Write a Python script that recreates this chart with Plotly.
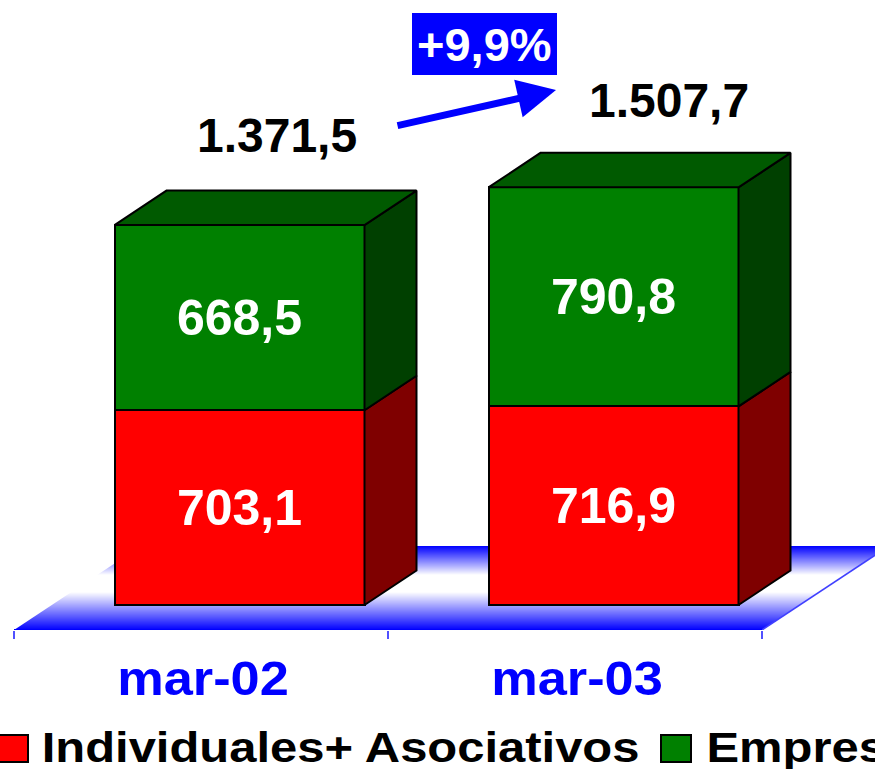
import plotly.graph_objects as go

categories = ["mar-02", "mar-03"]
individuales = [703.1, 716.9]
empresas = [668.5, 790.8]
totals = ["1.371,5", "1.507,7"]
growth_label = "+9,9%"
legend_names = ["Individuales+ Asociativos", "Empresas"]

W, H = 875, 769
PX_X = 374.0          # pixels per category
PX_Y = 0.277          # pixels per value unit
L, B = 14, 139        # plot margins; the axis line sits at pixel y=630
ZERO_Y = 605
FONT = "Liberation Sans, Arial, sans-serif"

def vx(px):           # horizontal pixel offset to data units
    return px / PX_X
def vy(px):           # vertical pixel offset to data units
    return px / PX_Y

x_range = [-0.5, -0.5 + (W - L) / PX_X]
y_range = [-vy(630 - ZERO_Y), vy(ZERO_Y)]
bar_w = vx(250)
bar_shift = vx(38.5)
dx, dy = vx(52), vy(34.5)
fdx, fdy = vx(127), vy(84)

fig = go.Figure()

# front faces
for name, vals, col in [(legend_names[0], individuales, "#ff0000"), (legend_names[1], empresas, "#008000")]:
    fig.add_trace(go.Bar(
        x=list(range(len(categories))), y=vals, name=name, width=bar_w,
        offset=bar_shift - bar_w / 2, marker=dict(color=col, line=dict(color="black", width=2)),
        text=[f"{v:.1f}".replace(".", ",") for v in vals], textposition="inside",
        insidetextanchor="middle", textangle=0, constraintext="none",
        textfont=dict(family=FONT, size=50, color="white", weight="bold"),
        showlegend=False, hoverinfo="skip"))

# side and top faces
def poly(xs, ys, col):
    fig.add_trace(go.Scatter(x=xs, y=ys, mode="lines", fill="toself", fillcolor=col,
                             line=dict(color="black", width=2), showlegend=False, hoverinfo="skip"))

for i in range(len(categories)):
    x0 = i + bar_shift - bar_w / 2
    x1 = x0 + bar_w
    a, b = individuales[i], individuales[i] + empresas[i]
    poly([x1, x1 + dx, x1 + dx, x1, x1], [0, dy, a + dy, a, 0], "#7f0000")
    poly([x1, x1 + dx, x1 + dx, x1, x1], [a, a + dy, b + dy, b, a], "#004000")
    poly([x0, x0 + dx, x1 + dx, x1, x0], [b, b + dy, b + dy, b, b], "#005a00")

# floor gradient (stack of thin bands below the traces)
shapes = []
n = 84
front_y, back_y = y_range[0], y_range[0] + fdy
for k in range(n):
    t0, t1 = k / n, (k + 1) / n
    up = k + 0.5
    # blue at the front and back edges, with a white band between them
    w = min(1.0, up / 38, (84 - up) / 29)
    c = int(round(255 * w))
    xa0, xa1 = x_range[0] + fdx * t0, x_range[0] + fdx * t1
    xb0, xb1 = 1.5 + fdx * t0, 1.5 + fdx * t1
    ya, yb = front_y + fdy * t0, front_y + fdy * t1
    shapes.append(dict(type="path", layer="below", xref="x", yref="y",
                       path=f"M{xa0},{ya} L{xb0},{ya} L{xb1},{yb} L{xa1},{yb} Z",
                       fillcolor=f"rgb({c},{c},255)", line=dict(width=0)))
shapes.append(dict(type="line", layer="below", xref="x", yref="y", x0=1.5, y0=front_y,
                   x1=1.5 + fdx, y1=back_y, line=dict(color="#4040ff", width=1.5)))
shapes.append(dict(type="line", layer="above", xref="x", yref="y", x0=-0.5, y0=front_y,
                   x1=1.5, y1=front_y, line=dict(color="#0000ff", width=2)))

# blue box behind the growth label and legend swatches
def px_rect(x0, y0, x1, y1, col, line):
    return dict(type="rect", xref="paper", yref="paper", layer="above",
                x0=(x0 - L) / (W - L), x1=(x1 - L) / (W - L),
                y0=(630 - y0) / 630, y1=(630 - y1) / 630,
                fillcolor=col, line=line)
shapes.append(px_rect(412, 13, 557, 75, "#0000ff", dict(width=0)))
shapes.append(px_rect(-5, 735, 28, 762, "#ff0000", dict(color="black", width=2)))
shapes.append(px_rect(661, 735, 691, 762, "#008000", dict(color="black", width=2)))

def px_note(text, x, y, size, color="black"):
    return dict(text=text, xref="paper", yref="paper", showarrow=False,
                x=(x - L) / (W - L), y=(630 - y) / 630, xanchor="center", yanchor="middle",
                font=dict(family=FONT, size=size, color=color, weight="bold"))

notes = [
    px_note(totals[0], 277, 135, 48),
    px_note(totals[1], 669, 101, 48),
    px_note(growth_label, 485, 45, 47, "white"),
    px_note(legend_names[0], 340.5, 747, 42),
    px_note(legend_names[1], 823.5, 747, 42),
    # arrow between the totals
    dict(xref="paper", yref="paper", axref="pixel", ayref="pixel", text="", showarrow=True,
         x=(556 - L) / (W - L), y=(630 - 90) / 630, ax=-160, ay=36,
         arrowcolor="#0000ff", arrowwidth=7, arrowhead=2, arrowsize=1.1, standoff=0),
]

fig.update_layout(
    width=W, height=H, barmode="stack", plot_bgcolor="white", paper_bgcolor="white",
    margin=dict(l=L, r=0, t=0, b=B, pad=0), shapes=shapes, annotations=notes, showlegend=False,
    xaxis=dict(range=x_range, tickmode="array", tickvals=[0, 1], ticktext=categories,
               showgrid=False, zeroline=False, showline=False,
               ticks="", ticklabelstandoff=16,
               tickfont=dict(family=FONT, size=48, color="#0000ff", weight="bold"),
               minor=dict(tickmode="array", tickvals=[-0.5, 0.5, 1.5], ticks="outside",
                          ticklen=8, tickcolor="#5050ff", tickwidth=1.5, showgrid=False)),
    yaxis=dict(range=y_range, visible=False, fixedrange=True),
)

# The page margin is removed; the wide type of the axis and legend labels is stretched.
post = """
document.body.style.margin = '0';
document.documentElement.style.overflow = 'hidden';
var stretch = {'Individuales+ Asociativos': 1.165, 'Empresas': 1.165, 'mar-02': 1.09, 'mar-03': 1.09};
document.querySelectorAll('svg text').forEach(function (t) {
  var f = stretch[t.textContent];
  if (f) {
    t.setAttribute('textLength', t.getComputedTextLength() * f);
    t.setAttribute('lengthAdjust', 'spacingAndGlyphs');
    if (t.textContent.indexOf('mar-') === 0) { t.setAttribute('dx', '2'); }
  }
});
"""
fig.write_html("out.html", config=dict(displayModeBar=False), post_script=post)
